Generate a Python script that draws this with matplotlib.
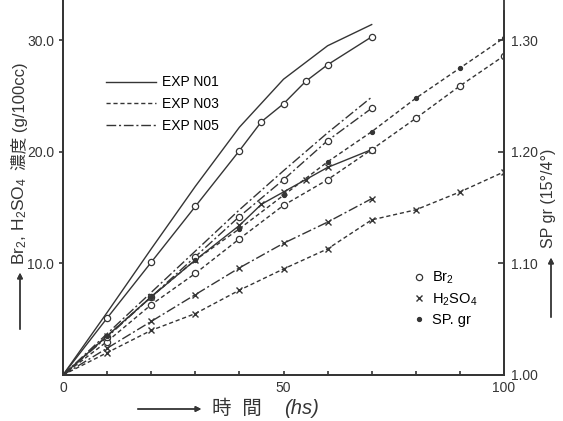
"""
Br2 / H2SO4 concentration and specific gravity against time (EXP NO1, NO3, NO5).
"""
import matplotlib
matplotlib.use("Agg")
import matplotlib.pyplot as plt
from matplotlib.lines import Line2D

plt.rcParams['font.family'] = ['Liberation Sans', 'Noto Sans CJK JP', 'DejaVu Sans']
plt.rcParams['mathtext.fontset'] = 'custom'
plt.rcParams['mathtext.rm'] = 'Liberation Sans'
plt.rcParams['mathtext.it'] = 'Liberation Sans:italic'

INK = '#353535'

# --- data (left axis: g/100cc, right axis: sp gr) ---
hrs_no1 = [0, 10, 20, 30, 40, 45, 50, 55, 60, 70]
br2_no1 = [0, 5.1, 10.1, 15.1, 20.1, 22.7, 24.3, 26.3, 27.8, 30.3]
h2so4_no1 = [0, 3.5, 7.0, 10.3, 13.4, 15.3, 16.4, 17.5, 18.6, 20.2]
hrs_no1_sp = [0, 10, 20, 30, 40, 50, 60, 70]
sp_no1 = [1.000, 1.056, 1.113, 1.169, 1.222, 1.265, 1.295, 1.314]

hrs_no3 = [0, 10, 20, 30, 40, 50, 60, 70, 80, 90, 100]
br2_no3 = [0, 3.0, 6.3, 9.1, 12.2, 15.2, 17.5, 20.2, 23.0, 25.9, 28.6]
h2so4_no3 = [0, 2.0, 4.0, 5.5, 7.6, 9.5, 11.3, 13.9, 14.8, 16.4, 18.2]
sp_no3 = [1.000, 1.035, 1.070, 1.103, 1.131, 1.161, 1.191, 1.218, 1.248, 1.275, 1.302]

hrs_no5 = [0, 10, 20, 30, 40, 50, 60, 70]
br2_no5 = [0, 3.4, 7.0, 10.6, 14.2, 17.5, 21.0, 23.9]
h2so4_no5 = [0, 2.4, 4.8, 7.2, 9.6, 11.8, 13.7, 15.8]
sp_no5 = [1.000, 1.037, 1.074, 1.111, 1.148, 1.183, 1.217, 1.249]

exp_labels = ['EXP N01', 'EXP N03', 'EXP N05']
marker_labels = ['Br$_2$', 'H$_2$SO$_4$', 'SP. gr']
left_ticks = [10, 20, 30]
right_ticks = [1.00, 1.10, 1.20, 1.30]
x_ticks = [0, 50, 100]

styles = ['-', (0, (3, 2)), (0, (7, 2, 1.5, 2))]

fig = plt.figure(figsize=(5.63, 4.21), dpi=100)
ax = fig.add_axes([63 / 563, 1 - 375 / 421, 441 / 563, 375 / 421])
ax2 = ax.twinx()

mk_o = dict(marker='o', mfc='white', mec=INK, ms=4.5, mew=0.9)
mk_x = dict(marker='x', mec=INK, ms=5, mew=1.0)
mk_d = dict(marker='o', mfc=INK, mec=INK, ms=2.8)


def draw(a, x, y, ls, mk):
    a.plot(x, y, color=INK, lw=1.0, ls=ls, markevery=slice(1, None), **mk)


# EXP NO1
draw(ax, hrs_no1, br2_no1, styles[0], mk_o)
draw(ax, hrs_no1, h2so4_no1, styles[0], mk_x)
ax2.plot(hrs_no1_sp, sp_no1, color=INK, lw=1.0, ls=styles[0])
# EXP NO3
draw(ax, hrs_no3, br2_no3, styles[1], mk_o)
draw(ax, hrs_no3, h2so4_no3, styles[1], mk_x)
draw(ax2, hrs_no3, sp_no3, styles[1], mk_d)
# EXP NO5
draw(ax, hrs_no5, br2_no5, styles[2], mk_o)
draw(ax, hrs_no5, h2so4_no5, styles[2], mk_x)
ax2.plot(hrs_no5, sp_no5, color=INK, lw=1.0, ls=styles[2])

ax.set_xlim(0, 100)
ax.set_ylim(0, 33.6)
ax2.set_ylim(1.0, 1.336)

for a in (ax, ax2):
    a.spines['top'].set_visible(False)
    for s in a.spines.values():
        s.set_color(INK)
        s.set_linewidth(1.3)
ax2.spines['right'].set_bounds(1.0, 1.326)

ax.set_xticks(x_ticks)
ax.set_xticks(range(10, 100, 10), minor=True)
ax.set_xticklabels([str(t) for t in x_ticks])
ax.set_yticks(left_ticks)
ax.set_yticklabels([f'{t:.1f}' for t in left_ticks])
ax2.set_yticks(right_ticks)
ax2.set_yticklabels([f'{t:.2f}' for t in right_ticks])
ax.tick_params(axis='x', which='both', direction='in', length=3, width=1.2,
               colors=INK, labelsize=10, pad=4)
ax.tick_params(axis='y', direction='out', length=3, width=1.2, colors=INK, labelsize=10)
ax2.tick_params(axis='y', direction='in', length=4, width=1.2, colors=INK, labelsize=10, pad=5)

# line-style legend
h1 = [Line2D([], [], color=INK, lw=1.0, ls=s) for s in styles]
leg1 = ax.legend(h1, exp_labels, loc='upper left', bbox_to_anchor=(0.07, 0.832),
                 frameon=False, handlelength=3.6, fontsize=10, labelspacing=0.55,
                 handletextpad=0.4)
ax.add_artist(leg1)

# marker legend
h2 = [Line2D([], [], ls='none', **mk_o), Line2D([], [], ls='none', **mk_x),
      Line2D([], [], ls='none', **mk_d)]
ax.legend(h2, marker_labels, loc='upper left', bbox_to_anchor=(0.757, 0.315),
          frameon=False, fontsize=10.5, labelspacing=0.35, handletextpad=0.3,
          handlelength=1.2)

# axis captions with arrows (figure pixels -> fractions)
W, H = 563, 421
arrow = dict(arrowstyle='-|>', color=INK, lw=1.0, mutation_scale=8)
fig.text(20 / W, 1 - 265 / H, 'Br$_2$, H$_2$SO$_4$', rotation=90, rotation_mode='anchor',
         ha='left', va='center', fontsize=12.5, color=INK)
fig.text(20 / W, 1 - 170 / H, '濃度 (g/100cc)', rotation=90, rotation_mode='anchor',
         ha='left', va='center', fontsize=12, color=INK)
fig.add_artist(plt.annotate('', xy=(20 / W, 1 - 270 / H), xytext=(20 / W, 1 - 332 / H),
                            xycoords='figure fraction', arrowprops=arrow))
fig.text(549 / W, 1 - 198 / H, 'SP gr (15°/4°)', rotation=90,
         ha='center', va='center', fontsize=11.5, color=INK)
fig.add_artist(plt.annotate('', xy=(551 / W, 1 - 255 / H), xytext=(551 / W, 1 - 320 / H),
                            xycoords='figure fraction', arrowprops=arrow))
fig.text(212 / W, 1 - 409 / H, '時  間', ha='left', va='center',
         fontsize=14, color=INK)
fig.text(284 / W, 1 - 409 / H, '(hs)', ha='left', va='center',
         fontsize=14.5, color=INK, style='italic')
fig.add_artist(plt.annotate('', xy=(204 / W, 1 - 409 / H), xytext=(135 / W, 1 - 409 / H),
                            xycoords='figure fraction', arrowprops=arrow))

fig.savefig('out.png', dpi=100)
